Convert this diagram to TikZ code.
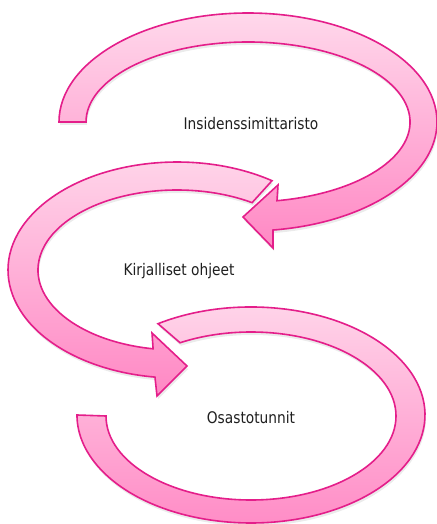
\documentclass[tikz,border=0pt]{standalone}
\usepackage{fontspec}
\setmainfont{DejaVu Sans}[FakeStretch=0.86]
\usetikzlibrary{shadows}
\definecolor{pinkedge}{RGB}{228,30,138}
\definecolor{pinktop}{RGB}{255,216,235}
\definecolor{pinkbot}{RGB}{255,136,196}
\tikzset{
  band/.style={draw=pinkedge, line width=1.6pt, line join=miter,
    top color=pinktop, bottom color=pinkbot,
    drop shadow={opacity=0.16, shadow xshift=1pt, shadow yshift=-3pt}},
  cyclabel/.style={font=\fontsize{16}{19}\selectfont, text=black!88, inner sep=0pt}
}
\begin{document}
\begin{tikzpicture}[x=1pt, y=-1pt]
\useasboundingbox (0,0) rectangle (436,524);
% arrow 1 (top)
\path[band] (59,122) arc[start angle=180, end angle=442.4, x radius=189, y radius=109]
  -- (273,248) -- (243,217) -- (278,185) -- (277,200.7)
  arc[start angle=439.7, end angle=180, x radius=162, y radius=80] -- cycle;
% arrow 2 (middle)
\path[band] (272,180.7) arc[start angle=304.2, end angle=97.5, x radius=169, y radius=108]
  -- (157,396) -- (187,366) -- (152,333) -- (153.1,348.8)
  arc[start angle=99.9, end angle=302.7, x radius=139, y radius=80] -- cycle;
% arrow 3 (bottom)
\path[band] (158,323.7) arc[start angle=237.7, end angle=540, x radius=174, y radius=108]
  -- (106,416)
  arc[start angle=540, end angle=240.7, x radius=145, y radius=84] -- cycle;
\node[cyclabel] (t1) at (251,124) {Insidenssimittaristo};
\node[cyclabel] (t2) at (179,271) {Kirjalliset ohjeet};
\node[cyclabel] (t3) at (251,418) {Osastotunnit};
\end{tikzpicture}
\end{document}
